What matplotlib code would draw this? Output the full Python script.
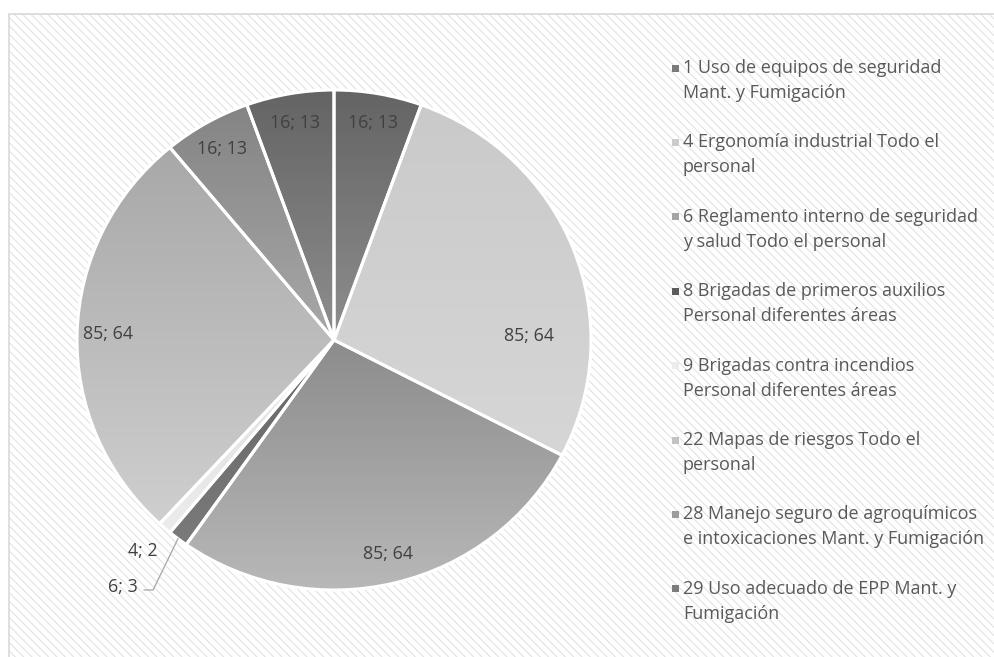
import numpy as np
import matplotlib
matplotlib.use("Agg")
import matplotlib.pyplot as plt
from matplotlib.patches import Rectangle
from matplotlib.colors import to_rgb

# datos del gráfico
categorias = [
    "1 Uso de equipos de seguridad\nMant. y Fumigación",
    "4 Ergonomía industrial Todo el\npersonal",
    "6 Reglamento interno de seguridad\ny salud Todo el personal",
    "8 Brigadas de primeros auxilios\nPersonal diferentes áreas",
    "9 Brigadas contra incendios\nPersonal diferentes áreas",
    "22 Mapas de riesgos Todo el\npersonal",
    "28 Manejo seguro de agroquímicos\ne intoxicaciones Mant. y Fumigación",
    "29 Uso adecuado de EPP Mant. y\nFumigación",
]
personas = [16, 85, 85, 6, 4, 85, 16, 16]
valores = [13, 64, 64, 3, 2, 64, 13, 13]

# degradado vertical de cada sector (arriba, abajo)
color_arriba = ["#646464", "#cacaca", "#8c8c8c", "#666666", "#dedede", "#a8a8a8", "#848484", "#646464"]
color_abajo = ["#8e8e8e", "#d6d6d6", "#b8b8b8", "#7a7a7a", "#ececec", "#cfcfcf", "#a8a8a8", "#8e8e8e"]
color_leyenda = ["#7a7a7a", "#cbcbcb", "#a4a4a4", "#5c5c5c", "#ececec", "#c2c2c2", "#9c9c9c", "#7c7c7c"]

W, H = 995, 657
plt.rcParams['hatch.linewidth'] = 0.8
fig = plt.figure(figsize=(W / 100, H / 100), dpi=100)
fig.patch.set_facecolor("white")

# fondo rayado del área del gráfico
fondo = Rectangle((9 / W, 0), 1, 1 - 14 / H, transform=fig.transFigure,
                  facecolor="white", edgecolor="#e2e2e2", hatch="\\\\\\\\",
                  linewidth=0, zorder=-2)
fig.add_artist(fondo)
borde = Rectangle((9 / W, -0.01), 1, 1 - 14 / H + 0.01, transform=fig.transFigure,
                  facecolor="none", edgecolor="#d9d9d9", linewidth=1.2, zorder=-1)
fig.add_artist(borde)

# ejes del pastel (radio horizontal 257 px, vertical 250 px)
cx, cy, sx, sy = 334, 340, 257, 250
lim = 1.1
ax = fig.add_axes([(cx - lim * sx) / W, (H - cy - lim * sy) / H, 2 * lim * sx / W, 2 * lim * sy / H])
ax.set_facecolor("none")
ax.set_zorder(1)

wedges, _ = ax.pie(valores, startangle=90, counterclock=False, radius=1,
                   wedgeprops=dict(edgecolor="white", linewidth=2.2))

for w, c0, c1 in zip(wedges, color_arriba, color_abajo):
    ext = w.get_path().get_extents()
    t = np.linspace(0, 1, 256)[:, None]
    grad = (1 - t) * np.array(to_rgb(c0)) + t * np.array(to_rgb(c1))
    img = ax.imshow(grad[:, None, :].repeat(2, axis=1), extent=[ext.x0, ext.x1, ext.y0, ext.y1],
                    origin="upper", aspect="auto", interpolation="bilinear", zorder=1)
    img.set_clip_path(w)
    w.set_facecolor("none")
    w.set_zorder(2)

ax.set_xlim(-lim, lim)
ax.set_ylim(-lim, lim)
ax.set_aspect("auto")
ax.axis("off")

etiquetas = [f"{p}; {v}" for p, v in zip(personas, valores)]
label_color = "#404040"
fs = 12.8

# ajustes de posición de etiquetas (cambio de ángulo, radio)
ajuste = {1: (-20, 0.76)}
for i, w in enumerate(wedges):
    ang = (w.theta1 + w.theta2) / 2
    if i in (3, 4):
        continue
    d_ang, r = ajuste.get(i, (0, 0.88))
    a = np.deg2rad(ang + d_ang)
    ax.text(r * np.cos(a), r * np.sin(a), etiquetas[i], ha="center", va="center",
            fontsize=fs, color=label_color, family="Open Sans", zorder=5)

# etiquetas de los sectores pequeños
a9 = np.deg2rad((wedges[4].theta1 + wedges[4].theta2) / 2)
ax.text(1.07 * np.cos(a9) + 0.02, 1.07 * np.sin(a9) - 0.04, etiquetas[4], ha="right", va="center",
        fontsize=fs, color=label_color, family="Open Sans", zorder=5)
a8 = np.deg2rad((wedges[3].theta1 + wedges[3].theta2) / 2)
x8, y8 = np.cos(a8), np.sin(a8)
ax.plot([x8, x8 - 0.097, x8 - 0.132], [y8, -1.0, -1.0], color="#a6a6a6", lw=0.9, zorder=5, clip_on=False)
ax.text(x8 - 0.155, -0.99, etiquetas[3], ha="right", va="center",
        fontsize=fs, color=label_color, family="Open Sans", zorder=5)

# leyenda (cuadro pequeño alineado con la primera línea)
y0, paso, interlinea = 68, 74.4, 25
for i, (cat, c) in enumerate(zip(categorias, color_leyenda)):
    y = y0 + i * paso
    fig.add_artist(Rectangle((672 / W, 1 - (y + 3.5) / H), 7 / W, 7 / H,
                             transform=fig.transFigure, facecolor=c, edgecolor="none"))
    for j, linea in enumerate(cat.split("\n")):
        fig.text(683 / W, 1 - (y + j * interlinea) / H, linea, ha="left", va="center",
                 fontsize=13, color="#595959", family="Open Sans")

fig.savefig("out.png", dpi=100)
